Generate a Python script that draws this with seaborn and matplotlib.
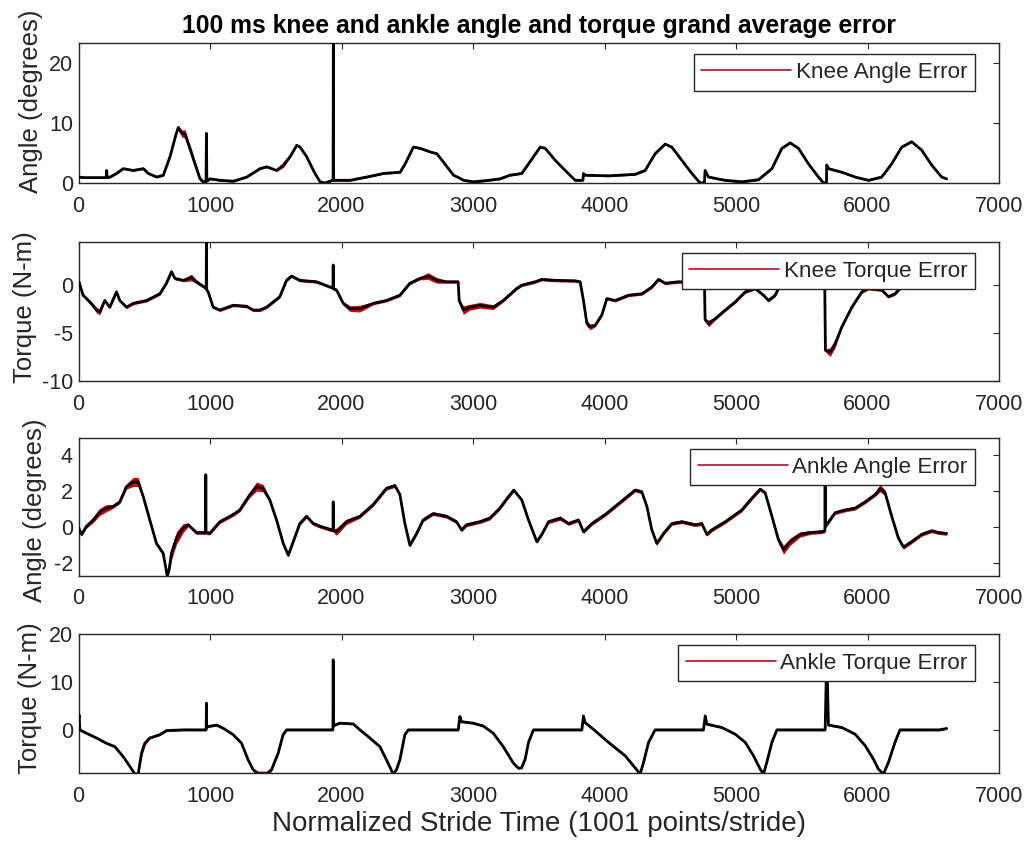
import matplotlib
matplotlib.use("Agg")
import matplotlib.pyplot as plt
from matplotlib.lines import Line2D
import numpy as np
import seaborn as sns

# ---------------- data ----------------
xticks = [0, 1000, 2000, 3000, 4000, 5000, 6000, 7000]

# Knee angle error
ka_x = [0, 40, 120, 210, 214, 218, 240, 290, 340, 417,
        493, 531, 594, 645, 696, 740, 759, 785, 810, 860,
        924, 950, 970, 973, 976, 1000, 1077, 1178, 1280, 1380,
        1431, 1507, 1558, 1609, 1660, 1685, 1735, 1798, 1837, 1875,
        1925, 1936, 1938, 1940, 1963, 2065, 2192, 2319, 2446, 2484,
        2547, 2598, 2674, 2725, 2775, 2852, 2900, 2928, 3004, 3100,
        3206, 3280, 3371, 3422, 3511, 3549, 3625, 3701, 3777, 3836,
        3840, 3853, 4030, 4233, 4309, 4385, 4461, 4512, 4588, 4664,
        4727, 4760, 4765, 4791, 4918, 5044, 5171, 5273, 5349, 5412,
        5475, 5551, 5627, 5665, 5688, 5690, 5703, 5805, 5906, 6007,
        6108, 6184, 6260, 6336, 6412, 6488, 6564, 6602]
ka_y = [1.0, 0.9, 0.9, 0.9, 2.1, 0.9, 1.0, 1.6, 2.4, 2.1,
        2.4, 1.6, 1.0, 1.3, 4.4, 8.0, 9.3, 8.3, 8.2, 4.9,
        0.7, 0.2, 0.3, 8.3, 0.3, 0.7, 0.45, 0.3, 1.0, 2.4,
        2.7, 2.1, 3.0, 4.4, 6.3, 6.0, 4.4, 1.6, 0.2, 0.0,
        0.4, 0.4, 23.5, 0.45, 0.45, 0.45, 1.0, 1.6, 1.8, 3.2,
        6.0, 5.8, 5.2, 4.9, 3.5, 1.3, 0.8, 0.45, 0.2, 0.4,
        0.7, 1.3, 1.6, 3.2, 6.0, 5.8, 3.8, 2.1, 0.45, 0.45,
        1.6, 1.3, 1.2, 1.45, 2.1, 4.9, 6.5, 6.0, 3.8, 1.6,
        0.0, 0.1, 2.1, 1.0, 0.45, 0.2, 0.55, 2.4, 5.8, 6.7,
        5.8, 3.2, 1.0, 0.0, 0.1, 3.0, 2.4, 1.8, 1.0, 0.45,
        1.0, 3.2, 6.0, 6.9, 5.5, 3.0, 1.0, 0.7]
ka_sd = [0.15, 0.15, 0.15, 0.15, 0.15, 0.15, 0.15, 0.15, 0.15, 0.15,
         0.15, 0.15, 0.15, 0.15, 0.15, 0.2, 0.3, 0.6, 0.7, 0.7,
         0.4, 0.2, 0.15, 0.15, 0.15, 0.15, 0.15, 0.15, 0.15, 0.15,
         0.15, 0.15, 0.4, 0.2, 0.15, 0.15, 0.15, 0.15, 0.15, 0.15,
         0.15, 0.15, 0.15, 0.15, 0.15, 0.15, 0.15, 0.15, 0.15, 0.15,
         0.15, 0.15, 0.15, 0.15, 0.15, 0.15, 0.15, 0.15, 0.15, 0.15,
         0.15, 0.15, 0.15, 0.15, 0.15, 0.15, 0.15, 0.15, 0.15, 0.15,
         0.15, 0.15, 0.15, 0.15, 0.15, 0.15, 0.15, 0.15, 0.15, 0.15,
         0.15, 0.15, 0.15, 0.15, 0.15, 0.15, 0.15, 0.15, 0.15, 0.15,
         0.15, 0.15, 0.15, 0.15, 0.15, 0.15, 0.15, 0.15, 0.15, 0.15,
         0.15, 0.15, 0.15, 0.15, 0.15, 0.15, 0.15, 0.15]

# Knee torque error
kt_x = [0, 5, 35, 86, 137, 162, 200, 238, 289, 314,
        365, 416, 517, 619, 669, 707, 733, 796, 859, 897,
        961, 971, 973, 975, 986, 1024, 1075, 1176, 1278, 1328,
        1379, 1430, 1531, 1582, 1620, 1683, 1810, 1924, 1935, 1937,
        1939, 1962, 2013, 2064, 2140, 2241, 2342, 2444, 2520, 2596,
        2659, 2723, 2799, 2887, 2895, 2926, 2977, 3053, 3154, 3230,
        3332, 3371, 3473, 3523, 3625, 3777, 3815, 3840, 3866, 3891,
        3929, 3980, 4018, 4081, 4183, 4284, 4360, 4411, 4461, 4563,
        4660, 4760, 4765, 4791, 4842, 4918, 4994, 5070, 5146, 5209,
        5247, 5298, 5323, 5400, 5550, 5675, 5680, 5716, 5754, 5805,
        5881, 5957, 6007, 6108, 6159, 6209, 6247, 6350, 6480, 6602]
kt_y = [0.0, 0.3, -1.05, -1.75, -2.6, -2.8, -1.6, -2.3, -0.7, -1.6,
        -2.3, -1.9, -1.6, -0.9, 0.2, 1.4, 0.7, 0.5, 0.8, 0.35,
        -0.25, -0.3, 4.6, -0.5, -0.7, -2.3, -2.6, -2.1, -2.2, -2.6,
        -2.6, -2.3, -1.2, 0.5, 0.95, 0.5, 0.35, -0.25, -0.25, 2.1,
        -0.4, -0.5, -1.9, -2.45, -2.45, -1.9, -1.6, -1.05, 0.2, 0.7,
        0.95, 0.5, 0.35, 0.35, -1.6, -2.6, -2.3, -2.1, -2.3, -1.6,
        -0.35, 0.0, 0.35, 0.6, 0.5, 0.45, 0.35, -1.6, -4.0, -4.35,
        -4.2, -3.1, -1.4, -1.6, -1.05, -0.9, -0.2, 0.6, 0.2, 0.35,
        0.3, 0.3, -3.6, -4.0, -3.5, -2.6, -1.75, -0.7, -0.35, -1.05,
        -1.6, -1.05, -0.35, 0.0, 0.2, 0.1, -6.8, -7.0, -6.1, -4.35,
        -2.3, -0.7, -0.35, -0.5, -1.2, -0.9, -0.35, 0.0, 0.1, 0.0]
kt_sd = [0.15, 0.15, 0.15, 0.2, 0.3, 0.3, 0.15, 0.15, 0.15, 0.15,
         0.15, 0.15, 0.15, 0.15, 0.15, 0.15, 0.15, 0.15, 0.35, 0.2,
         0.15, 0.15, 0.15, 0.15, 0.15, 0.15, 0.15, 0.15, 0.15, 0.15,
         0.15, 0.15, 0.15, 0.15, 0.15, 0.15, 0.15, 0.15, 0.15, 0.15,
         0.15, 0.15, 0.2, 0.3, 0.35, 0.15, 0.15, 0.15, 0.15, 0.15,
         0.35, 0.3, 0.15, 0.15, 0.15, 0.45, 0.3, 0.3, 0.25, 0.15,
         0.15, 0.15, 0.15, 0.15, 0.15, 0.15, 0.15, 0.15, 0.3, 0.3,
         0.15, 0.15, 0.15, 0.15, 0.15, 0.15, 0.15, 0.15, 0.15, 0.15,
         0.15, 0.15, 0.15, 0.35, 0.15, 0.15, 0.15, 0.15, 0.15, 0.15,
         0.15, 0.15, 0.15, 0.15, 0.15, 0.15, 0.15, 0.45, 0.4, 0.15,
         0.15, 0.15, 0.15, 0.15, 0.15, 0.15, 0.15, 0.15, 0.15, 0.15]

# Ankle angle error
aa_x = [0, 23, 61, 112, 162, 213, 264, 314, 365, 416,
        454, 492, 542, 593, 644, 675, 690, 707, 745, 796,
        834, 897, 960, 966, 968, 970, 999, 1075, 1176, 1227,
        1303, 1354, 1404, 1455, 1506, 1557, 1595, 1633, 1683, 1734,
        1785, 1836, 1924, 1935, 1937, 1939, 1962, 2038, 2140, 2241,
        2342, 2406, 2444, 2482, 2520, 2571, 2621, 2697, 2798, 2874,
        2913, 2951, 3052, 3128, 3204, 3260, 3310, 3371, 3422, 3485,
        3523, 3574, 3663, 3726, 3802, 3840, 3904, 4005, 4107, 4233,
        4284, 4322, 4360, 4398, 4449, 4512, 4588, 4690, 4740, 4778,
        4816, 4918, 5044, 5120, 5184, 5222, 5273, 5323, 5361, 5412,
        5488, 5564, 5653, 5676, 5678, 5680, 5754, 5830, 5906, 5982,
        6058, 6096, 6134, 6184, 6235, 6273, 6336, 6412, 6488, 6539,
        6602]
aa_y = [0.0, -0.4, 0.05, 0.4, 0.85, 1.05, 1.15, 1.4, 2.25, 2.5,
        2.5, 1.7, 0.4, -0.9, -1.45, -2.7, -2.3, -1.45, -0.6, -0.05,
        0.13, -0.3, -0.3, -0.3, 2.9, -0.3, -0.33, 0.3, 0.7, 0.95,
        1.8, 2.25, 2.15, 1.5, 0.4, -0.9, -1.55, -0.8, 0.2, 0.6,
        0.2, 0.05, -0.15, -0.15, 1.4, -0.2, -0.25, 0.3, 0.6, 1.25,
        2.15, 2.3, 1.8, 0.2, -1.0, -0.35, 0.4, 0.75, 0.6, 0.3,
        -0.15, 0.13, 0.3, 0.5, 1.05, 1.6, 2.05, 1.5, 0.4, -0.8,
        -0.4, 0.3, 0.5, 0.2, 0.4, -0.25, 0.2, 0.7, 1.3, 2.05,
        1.95, 1.15, -0.15, -0.9, -0.35, 0.2, 0.3, 0.13, 0.2, -0.4,
        -0.15, 0.3, 0.95, 1.6, 2.1, 1.9, 0.6, -0.7, -1.25, -0.8,
        -0.4, -0.3, -0.25, -0.2, 3.5, 0.05, 0.8, 0.95, 1.05, 1.4,
        1.8, 2.15, 1.9, 0.6, -0.6, -1.1, -0.8, -0.4, -0.2, -0.3,
        -0.35]
aa_sd = [0.1, 0.1, 0.1, 0.15, 0.2, 0.2, 0.1, 0.1, 0.15, 0.25,
         0.25, 0.1, 0.1, 0.1, 0.1, 0.1, 0.2, 0.35, 0.35, 0.25,
         0.1, 0.1, 0.1, 0.1, 0.1, 0.1, 0.1, 0.1, 0.1, 0.1,
         0.15, 0.25, 0.2, 0.1, 0.1, 0.1, 0.1, 0.1, 0.1, 0.1,
         0.1, 0.1, 0.1, 0.1, 0.1, 0.1, 0.2, 0.15, 0.1, 0.1,
         0.1, 0.1, 0.1, 0.1, 0.1, 0.1, 0.1, 0.1, 0.1, 0.1,
         0.1, 0.1, 0.1, 0.1, 0.1, 0.1, 0.1, 0.1, 0.1, 0.1,
         0.1, 0.1, 0.12, 0.1, 0.1, 0.1, 0.1, 0.1, 0.1, 0.1,
         0.1, 0.1, 0.1, 0.1, 0.1, 0.1, 0.1, 0.1, 0.1, 0.1,
         0.1, 0.1, 0.1, 0.1, 0.1, 0.1, 0.1, 0.15, 0.25, 0.2,
         0.15, 0.1, 0.1, 0.1, 0.1, 0.1, 0.1, 0.1, 0.1, 0.1,
         0.1, 0.2, 0.15, 0.1, 0.1, 0.12, 0.1, 0.1, 0.1, 0.1,
         0.1]

# Ankle torque error
at_x = [0, 5, 10, 61, 137, 213, 276, 340, 390, 428,
        454, 479, 504, 542, 619, 669, 796, 961, 971, 973,
        975, 986, 1049, 1100, 1176, 1240, 1290, 1328, 1366, 1430,
        1468, 1518, 1556, 1582, 1683, 1924, 1935, 1937, 1939, 1949,
        1987, 2089, 2140, 2216, 2292, 2342, 2393, 2418, 2444, 2482,
        2508, 2888, 2900, 2913, 3002, 3078, 3154, 3230, 3306, 3345,
        3370, 3397, 3422, 3460, 3828, 3840, 3853, 3929, 4030, 4157,
        4271, 4297, 4335, 4385, 4753, 4766, 4778, 4892, 4994, 5070,
        5133, 5184, 5209, 5234, 5273, 5311, 5678, 5690, 5703, 5805,
        5906, 5982, 6045, 6083, 6121, 6159, 6209, 6247, 6550, 6602]
at_y = [2.1, 3.1, 0.0, -0.7, -1.7, -2.8, -3.5, -5.6, -7.6, -9.2,
        -9.2, -4.9, -2.8, -1.7, -1.0, -0.15, 0.0, 0.0, 0.0, 5.6,
        0.5, 0.7, 1.0, 0.35, -1.0, -2.8, -6.25, -8.3, -9.2, -9.2,
        -8.3, -4.9, -1.0, 0.0, 0.0, 0.0, 0.0, 14.6, 0.8, 1.0,
        1.4, 1.25, 0.0, -1.7, -3.5, -6.25, -9.2, -8.3, -6.25, -1.0,
        0.0, 0.0, 2.8, 1.7, 1.4, 0.8, -0.7, -3.5, -6.9, -8.0,
        -7.9, -6.1, -2.6, 0.0, 0.0, 2.9, 1.5, -0.2, -2.6, -5.4,
        -9.2, -6.8, -2.6, 0.0, 0.0, 2.9, 1.2, 0.5, -0.9, -2.6,
        -5.4, -8.2, -9.2, -6.8, -2.6, 0.0, 0.0, 16.0, 1.0, 0.5,
        -0.9, -3.3, -6.1, -8.2, -9.2, -6.8, -2.6, 0.0, 0.0, 0.3]
at_sd = [0.2, 0.2, 0.2, 0.2, 0.2, 0.2, 0.2, 0.2, 0.2, 0.2,
         0.2, 0.8, 0.5, 0.2, 0.2, 0.2, 0.2, 0.2, 0.2, 0.2,
         0.2, 0.2, 0.2, 0.2, 0.2, 0.2, 0.2, 0.3, 0.6, 0.6,
         0.3, 0.2, 0.2, 0.2, 0.2, 0.2, 0.2, 0.2, 0.2, 0.2,
         0.2, 0.2, 0.2, 0.3, 0.2, 0.2, 0.2, 0.2, 0.2, 0.2,
         0.2, 0.2, 0.2, 0.2, 0.2, 0.2, 0.2, 0.2, 0.2, 0.2,
         0.2, 0.2, 0.2, 0.2, 0.2, 0.2, 0.2, 0.2, 0.3, 0.3,
         0.2, 0.2, 0.2, 0.2, 0.2, 0.2, 0.2, 0.2, 0.2, 0.2,
         0.2, 0.2, 0.2, 0.2, 0.2, 0.2, 0.2, 0.2, 0.2, 0.2,
         0.2, 0.2, 0.2, 0.2, 0.2, 0.2, 0.2, 0.2, 0.2, 0.2]

legend_labels = ["Knee Angle Error", "Knee Torque Error",
                 "Ankle Angle Error", "Ankle Torque Error"]
ylabels = ["Angle (degrees)", "Torque (N-m)", "Angle (degrees)", "Torque (N-m)"]
ylims = [(0, 23.4), (-10, 4.5), (-2.7, 4.93), (-9.0, 20)]
yticks = [[0, 10, 20], [-10, -5, 0], [-2, 0, 2, 4], [0, 10, 20]]
title = "100 ms knee and ankle angle and torque grand average error"
xlabel = "Normalized Stride Time (1001 points/stride)"

# ---------------- style ----------------
sns.set_theme(style="white")
plt.rcParams["font.family"] = ["Liberation Sans", "DejaVu Sans"]
plt.rcParams["axes.unicode_minus"] = False
TXT = "#262626"
BAND = "#cc0000"
LEG_RED = "#b0102a"
TICK_FS = 15.5
LEG_FS = 16.2
YLAB_FS = 18.5
XLAB_FS = 20
TITLE_FS = 17.8

W, H = 1034, 844
fig = plt.figure(figsize=(W / 100, H / 100), dpi=100)
fig.patch.set_facecolor("white")

left_px, right_px = 78.5, 999.0
panel_px = [(43, 183), (242, 381), (438, 576), (634, 773)]
ylab_coords = [(-0.0386, 0.582), (-0.0451, 0.53), (-0.0342, 0.48), (-0.0397, 0.54)]

series = [(ka_x, ka_y, ka_sd), (kt_x, kt_y, kt_sd),
          (aa_x, aa_y, aa_sd), (at_x, at_y, at_sd)]

axes = []
for i, ((t, b), (xs, ys, sds)) in enumerate(zip(panel_px, series)):
    ax = fig.add_axes([left_px / W, 1 - b / H, (right_px - left_px) / W, (b - t) / H])
    axes.append(ax)
    xs_a = np.asarray(xs, float)
    ys_a = np.asarray(ys, float)
    sd_a = np.asarray(sds, float)
    ax.fill_between(xs_a, ys_a - sd_a, ys_a + sd_a, color=BAND, lw=0, zorder=2)
    sns.lineplot(x=xs_a, y=ys_a, ax=ax, color="black", lw=2.0,
                 estimator=None, sort=False, legend=False, zorder=3)
    ax.set_xlim(0, 7000)
    ax.set_ylim(*ylims[i])
    ax.set_xticks(xticks)
    ax.set_yticks(yticks[i])
    ax.tick_params(direction="in", length=4, width=0.8, top=True, right=True,
                   labelsize=TICK_FS, labelcolor=TXT, color=TXT)
    ax.tick_params(axis="x", pad=9)
    ax.tick_params(axis="y", pad=4)
    for s in ax.spines.values():
        s.set_color(TXT)
        s.set_linewidth(1.0)
        s.set_visible(True)
    ax.set_ylabel(ylabels[i], fontsize=YLAB_FS, color=TXT)
    ax.yaxis.set_label_coords(*ylab_coords[i])
    ax.set_xlabel("")
    h = Line2D([0], [0], color=LEG_RED, lw=1.2)
    leg = ax.legend([h], [legend_labels[i]], loc="upper right",
                    bbox_to_anchor=(0.974, 0.92), frameon=True, fancybox=False,
                    edgecolor=TXT, framealpha=1, fontsize=LEG_FS, handlelength=4.0,
                    handletextpad=0.2, borderpad=0.34, borderaxespad=0)
    leg.get_frame().set_linewidth(1.0)
    leg.set_zorder(5)
    for tx in leg.get_texts():
        tx.set_color(TXT)

axes[0].set_title(title, fontsize=TITLE_FS, fontweight="bold", color="black", pad=7)
axes[-1].set_xlabel(xlabel, fontsize=XLAB_FS, color=TXT, labelpad=3)

fig.savefig("out.png", dpi=100, facecolor="white")
